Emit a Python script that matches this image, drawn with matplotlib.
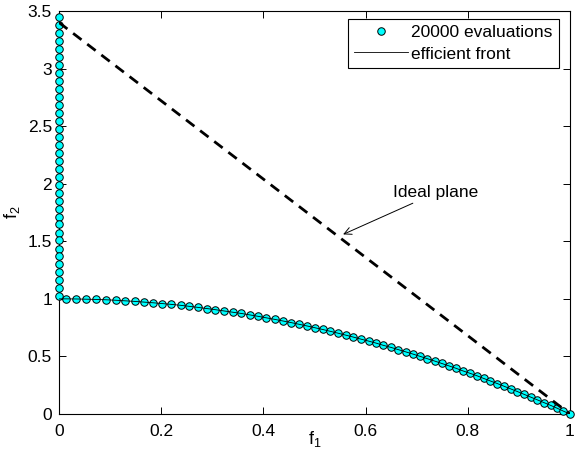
import matplotlib
matplotlib.use("Agg")
import matplotlib.pyplot as plt

plt.rcParams['font.family'] = ['Liberation Sans', 'DejaVu Sans']
plt.rcParams['mathtext.fontset'] = 'custom'
plt.rcParams['mathtext.rm'] = 'Liberation Sans'
plt.rcParams['mathtext.it'] = 'Liberation Sans'

# --- data ---
vert_f1 = [0.0] * 36
vert_f2 = [3.450, 3.381, 3.311, 3.242, 3.172, 3.103, 3.034, 2.964, 2.895, 2.825,
           2.756, 2.687, 2.617, 2.548, 2.478, 2.409, 2.340, 2.270, 2.201, 2.131,
           2.062, 1.993, 1.923, 1.854, 1.784, 1.715, 1.646, 1.576, 1.507, 1.437,
           1.368, 1.299, 1.229, 1.160, 1.090, 1.021]

curve_f1 = [0.014, 0.034, 0.053, 0.073, 0.092, 0.111, 0.129, 0.148, 0.166, 0.184,
            0.202, 0.220, 0.238, 0.255, 0.272, 0.289, 0.306, 0.323, 0.340, 0.357,
            0.373, 0.390, 0.406, 0.422, 0.438, 0.454, 0.469, 0.485, 0.500, 0.516,
            0.531, 0.546, 0.561, 0.576, 0.591, 0.606, 0.621, 0.635, 0.650, 0.664,
            0.679, 0.693, 0.707, 0.721, 0.735, 0.749, 0.763, 0.777, 0.790, 0.804,
            0.818, 0.831, 0.844, 0.858, 0.871, 0.884, 0.897, 0.910, 0.923, 0.936,
            0.949, 0.962, 0.975, 0.987, 1.000]
curve_f2 = [1.000, 0.999, 0.997, 0.995, 0.992, 0.988, 0.983, 0.978, 0.972, 0.966,
            0.959, 0.952, 0.944, 0.935, 0.926, 0.916, 0.906, 0.895, 0.884, 0.873,
            0.861, 0.848, 0.835, 0.822, 0.808, 0.794, 0.780, 0.765, 0.750, 0.734,
            0.718, 0.702, 0.685, 0.668, 0.650, 0.633, 0.615, 0.596, 0.578, 0.559,
            0.539, 0.520, 0.500, 0.480, 0.460, 0.439, 0.418, 0.397, 0.375, 0.354,
            0.332, 0.309, 0.287, 0.264, 0.241, 0.218, 0.195, 0.171, 0.147, 0.123,
            0.099, 0.075, 0.050, 0.025, 0.000]

front_f1 = [0.0] + curve_f1
front_f2 = [1.0] + curve_f2

plane_f1 = [0.0, 1.0]
plane_f2 = [3.4, 0.0]

xticks = [0, 0.2, 0.4, 0.6, 0.8, 1]
xticklabels = ['0', '0.2', '0.4', '0.6', '0.8', '1']
yticks = [0, 0.5, 1, 1.5, 2, 2.5, 3, 3.5]
yticklabels = ['0', '0.5', '1', '1.5', '2', '2.5', '3', '3.5']

W, H = 579, 449
fig = plt.figure(figsize=(W / 100, H / 100), dpi=100)
ax = fig.add_axes([59 / W, 1 - 414 / H, (570 - 59) / W, (414 - 11) / H])

pts_f1 = vert_f1 + curve_f1
pts_f2 = vert_f2 + curve_f2
ax.plot(pts_f1, pts_f2, linestyle='none', marker='o', markersize=5.4,
        markerfacecolor='#00ffff', markeredgecolor='black', markeredgewidth=0.7,
        label='20000 evaluations', zorder=3, clip_on=False)
ax.plot(front_f1, front_f2, color='black', linewidth=0.6,
        label='efficient front', zorder=4)
ax.plot(plane_f1, plane_f2, color='black', linewidth=2.0,
        linestyle=(0, (3.8, 2.6)), zorder=5)

ax.annotate('Ideal plane', xy=(0.556, 1.56), xytext=(0.654, 1.92),
            fontsize=12.5, va='center', ha='left',
            arrowprops=dict(arrowstyle='->', color='black', lw=0.7,
                            shrinkA=0, shrinkB=0, mutation_scale=13))

ax.set_xlim(0, 1)
ax.set_ylim(0, 3.5)
ax.set_xticks(xticks)
ax.set_xticklabels(xticklabels)
ax.set_yticks(yticks)
ax.set_yticklabels(yticklabels)
ax.tick_params(axis='x', direction='in', length=5, width=0.7, top=True,
               labelsize=12.5, pad=7)
ax.tick_params(axis='y', direction='in', length=5, width=0.7, right=True,
               labelsize=12.5, pad=5)
for s in ax.spines.values():
    s.set_linewidth(0.8)

ax.set_xlabel('f$_1$', fontsize=13, labelpad=-7)
ax.set_ylabel('f$_2$', fontsize=13, labelpad=4)

leg = ax.legend(loc='upper right', bbox_to_anchor=(0.978, 0.980),
                borderaxespad=0, fancybox=False, fontsize=12.5,
                handlelength=3.1, handletextpad=0.2, borderpad=0.35,
                labelspacing=0.35, framealpha=1)
leg.get_frame().set_edgecolor('black')
leg.get_frame().set_linewidth(0.8)

fig.savefig('out.png', dpi=100)
